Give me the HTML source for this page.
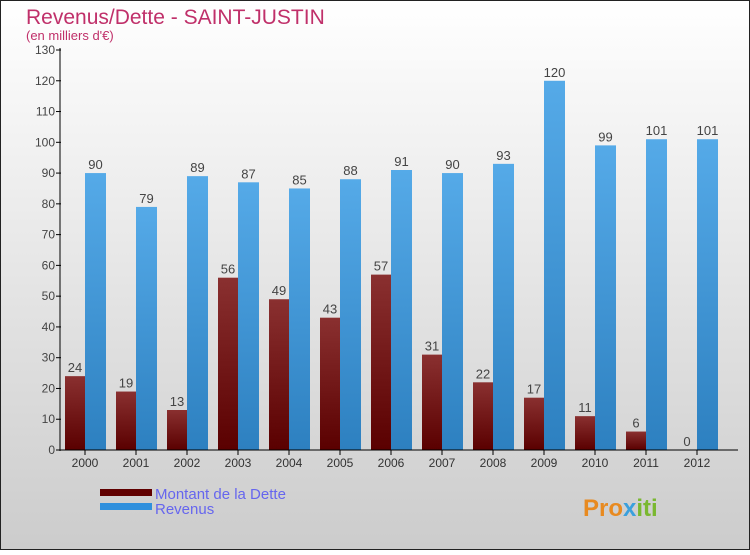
<!DOCTYPE html>
<html><head><meta charset="utf-8"><style>
body{margin:0;width:750px;height:550px;overflow:hidden;font-family:"Liberation Sans",sans-serif}
svg text{font-family:"Liberation Sans",sans-serif}
</style></head><body>
<svg width="750" height="550" xmlns="http://www.w3.org/2000/svg">
<defs>
<linearGradient id="bg" x1="0" y1="0" x2="0" y2="1"><stop offset="0" stop-color="#ffffff"/><stop offset="1" stop-color="#cccccc"/></linearGradient>
<linearGradient id="gd" x1="0" y1="0" x2="0" y2="1"><stop offset="0" stop-color="#8a3030"/><stop offset="1" stop-color="#5a0000"/></linearGradient>
<linearGradient id="gr" x1="0" y1="0" x2="0" y2="1"><stop offset="0" stop-color="#55aae8"/><stop offset="1" stop-color="#2d80c0"/></linearGradient>
</defs>
<rect x="0.5" y="0.5" width="749" height="549" fill="url(#bg)" stroke="#222"/>
<text x="26" y="24" font-size="21" fill="#c0306a">Revenus/Dette - SAINT-JUSTIN</text>
<text x="26" y="40" font-size="13" fill="#c0306a">(en milliers d'€)</text>
<g id="plot"></g>
<rect x="100" y="489" width="52" height="7" fill="#600000"/>
<rect x="100" y="503" width="52" height="7" fill="#3090dd"/>
<text x="155" y="499" font-size="15" fill="#6666ee">Montant de la Dette</text>
<text x="155" y="514" font-size="15" fill="#6666ee">Revenus</text>
<text x="583" y="516" font-size="24" font-weight="bold" fill="#e88a20">Pro<tspan fill="#3aa0dd">x</tspan><tspan fill="#7ab830">iti</tspan></text>
</svg>
<script>
const years=["2000","2001","2002","2003","2004","2005","2006","2007","2008","2009","2010","2011","2012"];
const dette=[24,19,13,56,49,43,57,31,22,17,11,6,0];
const revenus=[90,79,89,87,85,88,91,90,93,120,99,101,101];
const yTicks=[0,10,20,30,40,50,60,70,80,90,100,110,120,130];
const NS="http://www.w3.org/2000/svg";
const g=document.getElementById("plot");
const x0=60,gw=51,yb=450,ppu=400/130;
const y=v=>yb-v*ppu;
function mk(t,a,txt){const e=document.createElementNS(NS,t);for(const k in a)e.setAttribute(k,a[k]);if(txt!==undefined)e.textContent=txt;g.appendChild(e);return e;}
yTicks.forEach(t=>{
 const l=mk("line",{x1:56,x2:61,y1:y(t),y2:y(t),stroke:"#000"});
 
 
 const tx=mk("text",{x:55,y:y(t)+4,"font-size":12,fill:"#444","text-anchor":"end"},String(t));
 
 
});
years.forEach((yr,i)=>{
 const gx=x0+i*gw;
 const b1=mk("rect",{x:gx+5,y:y(dette[i]),width:20,height:dette[i]*ppu,fill:"url(#gd)"});
 
 
 const b2=mk("rect",{x:gx+25,y:y(revenus[i]),width:21,height:revenus[i]*ppu,fill:"url(#gr)"});
 
 
 const v1=mk("text",{x:gx+15,y:y(dette[i])-4,"font-size":13,fill:"#444","text-anchor":"middle"},String(dette[i]));
 
 
 const v2=mk("text",{x:gx+35.5,y:y(revenus[i])-4,"font-size":13,fill:"#444","text-anchor":"middle"},String(revenus[i]));
 
 
 const tk=mk("line",{x1:gx+25,x2:gx+25,y1:450,y2:455,stroke:"#000"});
 
 
 const xl=mk("text",{x:gx+25,y:467,"font-size":12,fill:"#333","text-anchor":"middle"},yr);
 
 
});
const ya=mk("line",{x1:60,x2:60,y1:48,y2:451,stroke:"#000"});


const xa=mk("line",{x1:60,x2:738,y1:450,y2:450,stroke:"#000"});


</script>
</body></html>
